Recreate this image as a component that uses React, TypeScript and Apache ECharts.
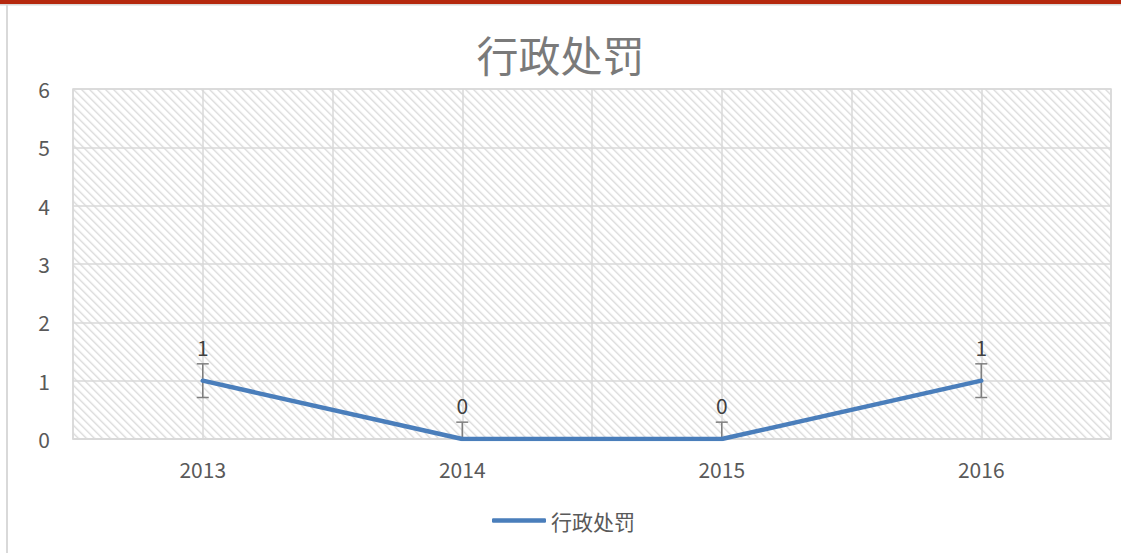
import React, { useEffect, useRef } from "react";
import * as echarts from "echarts";

const categories = ["2013", "2014", "2015", "2016"];
const values = [1, 0, 0, 1];
const seriesName = "行政处罚";
const yTicks = { min: 0, max: 6, interval: 1 };

// Excel "standard error" error bar amount computed from the data
function standardError(arr: number[]) {
  const n = arr.length;
  const mean = arr.reduce((a, b) => a + b, 0) / n;
  const v = arr.reduce((a, b) => a + (b - mean) * (b - mean), 0) / (n - 1);
  return Math.sqrt(v) / Math.sqrt(n);
}

function makeHatch() {
  const c = document.createElement("canvas");
  c.width = 8;
  c.height = 8;
  const ctx = c.getContext("2d")!;
  ctx.fillStyle = "#ffffff";
  ctx.fillRect(0, 0, 8, 8);
  const img = ctx.getImageData(0, 0, 8, 8);
  for (let y = 0; y < 8; y++) {
    for (let x = 0; x < 8; x++) {
      const d = (((x - y) % 8) + 8) % 8;
      let g = 255;
      if (d === 0) g = 222;
      else if (d === 1 || d === 7) g = 238;
      else if (d === 2) g = 250;
      const i = (y * 8 + x) * 4;
      img.data[i] = g;
      img.data[i + 1] = g;
      img.data[i + 2] = g;
      img.data[i + 3] = 255;
    }
  }
  ctx.putImageData(img, 0, 0);
  return c;
}

export default function App() {
  const ref = useRef<HTMLDivElement>(null);
  useEffect(() => {
    const chart = echarts.init(ref.current!, null, { renderer: "svg" });
    const se = standardError(values);
    const font = "'Noto Sans CJK SC', 'Noto Sans', sans-serif";
    const grey = "#d9d9d9";
    const blue = "#4a7ebb";
    chart.setOption({
      animation: false,
      backgroundColor: "#ffffff",
      textStyle: { fontFamily: font },
      title: {
        text: seriesName,
        left: "center",
        top: 27,
        textStyle: { fontSize: 42, fontWeight: "normal", color: "#7a7a7a", fontFamily: font },
      },
      graphic: [
        { type: "rect", left: 0, top: 0, shape: { width: 1121, height: 4 }, style: { fill: "#b5280e" }, silent: true },
        { type: "rect", left: 0, top: 4, shape: { width: 1121, height: 1.5 }, style: { fill: grey }, silent: true },
        { type: "rect", left: 6, top: 5, shape: { width: 2, height: 548 }, style: { fill: grey }, silent: true },
      ],
      legend: {
        data: [seriesName],
        icon: "roundRect",
        left: 487,
        top: 505,
        itemWidth: 54,
        itemHeight: 4.5,
        itemGap: 6,
        itemStyle: { color: blue, opacity: 1 },
        textStyle: { fontSize: 21, color: "#595959", fontFamily: font },
      },
      grid: {
        left: 73,
        right: 10,
        top: 89,
        bottom: 114,
        show: true,
        borderColor: grey,
        borderWidth: 1.5,
        backgroundColor: { image: makeHatch(), repeat: "repeat" },
      },
      xAxis: [
        {
          type: "category",
          data: categories,
          boundaryGap: true,
          axisLine: { lineStyle: { color: grey, width: 1.5 } },
          axisTick: { show: false },
          axisLabel: { fontSize: 21, color: "#595959", margin: 19, fontFamily: font },
          splitLine: { show: false },
        },
        {
          type: "value",
          min: 0,
          max: categories.length * 2,
          interval: 1,
          position: "top",
          axisLine: { show: false },
          axisTick: { show: false },
          axisLabel: { show: false },
          splitLine: { show: true, lineStyle: { color: grey, width: 1.5 } },
        },
      ],
      yAxis: {
        type: "value",
        min: yTicks.min,
        max: yTicks.max,
        interval: yTicks.interval,
        axisLine: { show: false },
        axisTick: { show: false },
        axisLabel: { fontSize: 21, color: "#595959", margin: 23, fontFamily: font },
        splitLine: { lineStyle: { color: grey, width: 1.5 } },
      },
      series: [
        {
          name: "errorBars",
          type: "custom",
          xAxisIndex: 0,
          z: 3,
          data: values.map((v, i) => [i, v, v - se, v + se]),
          renderItem: (params: any, api: any) => {
            const x = api.value(0);
            const lo = Math.max(api.value(2), yTicks.min);
            const hi = api.value(3);
            const pLo = api.coord([x, lo]);
            const pHi = api.coord([x, hi]);
            const half = 6;
            const style = { stroke: "#7f7f7f", lineWidth: 1.5 };
            const children: any[] = [
              { type: "line", shape: { x1: pLo[0], y1: pLo[1], x2: pHi[0], y2: pHi[1] }, style },
              { type: "line", shape: { x1: pHi[0] - half, y1: pHi[1], x2: pHi[0] + half, y2: pHi[1] }, style },
            ];
            if (api.value(2) >= yTicks.min) {
              children.push({ type: "line", shape: { x1: pLo[0] - half, y1: pLo[1], x2: pLo[0] + half, y2: pLo[1] }, style });
            }
            return { type: "group", children };
          },
        },
        {
          name: seriesName,
          type: "line",
          xAxisIndex: 0,
          z: 4,
          data: values,
          symbol: "circle",
          symbolSize: 3,
          showSymbol: true,
          lineStyle: { color: blue, width: 4.5, cap: "round" },
          itemStyle: { color: blue },
          label: {
            show: true,
            position: "top",
            distance: 22,
            fontSize: 21,
            color: "#404040",
            fontFamily: font,
          },
        },
      ],
    });
    return () => chart.dispose();
  }, []);
  return (
    <div
      ref={ref}
      style={{ position: "fixed", left: 0, top: 0, width: 1121, height: 553 }}
    />
  );
}
